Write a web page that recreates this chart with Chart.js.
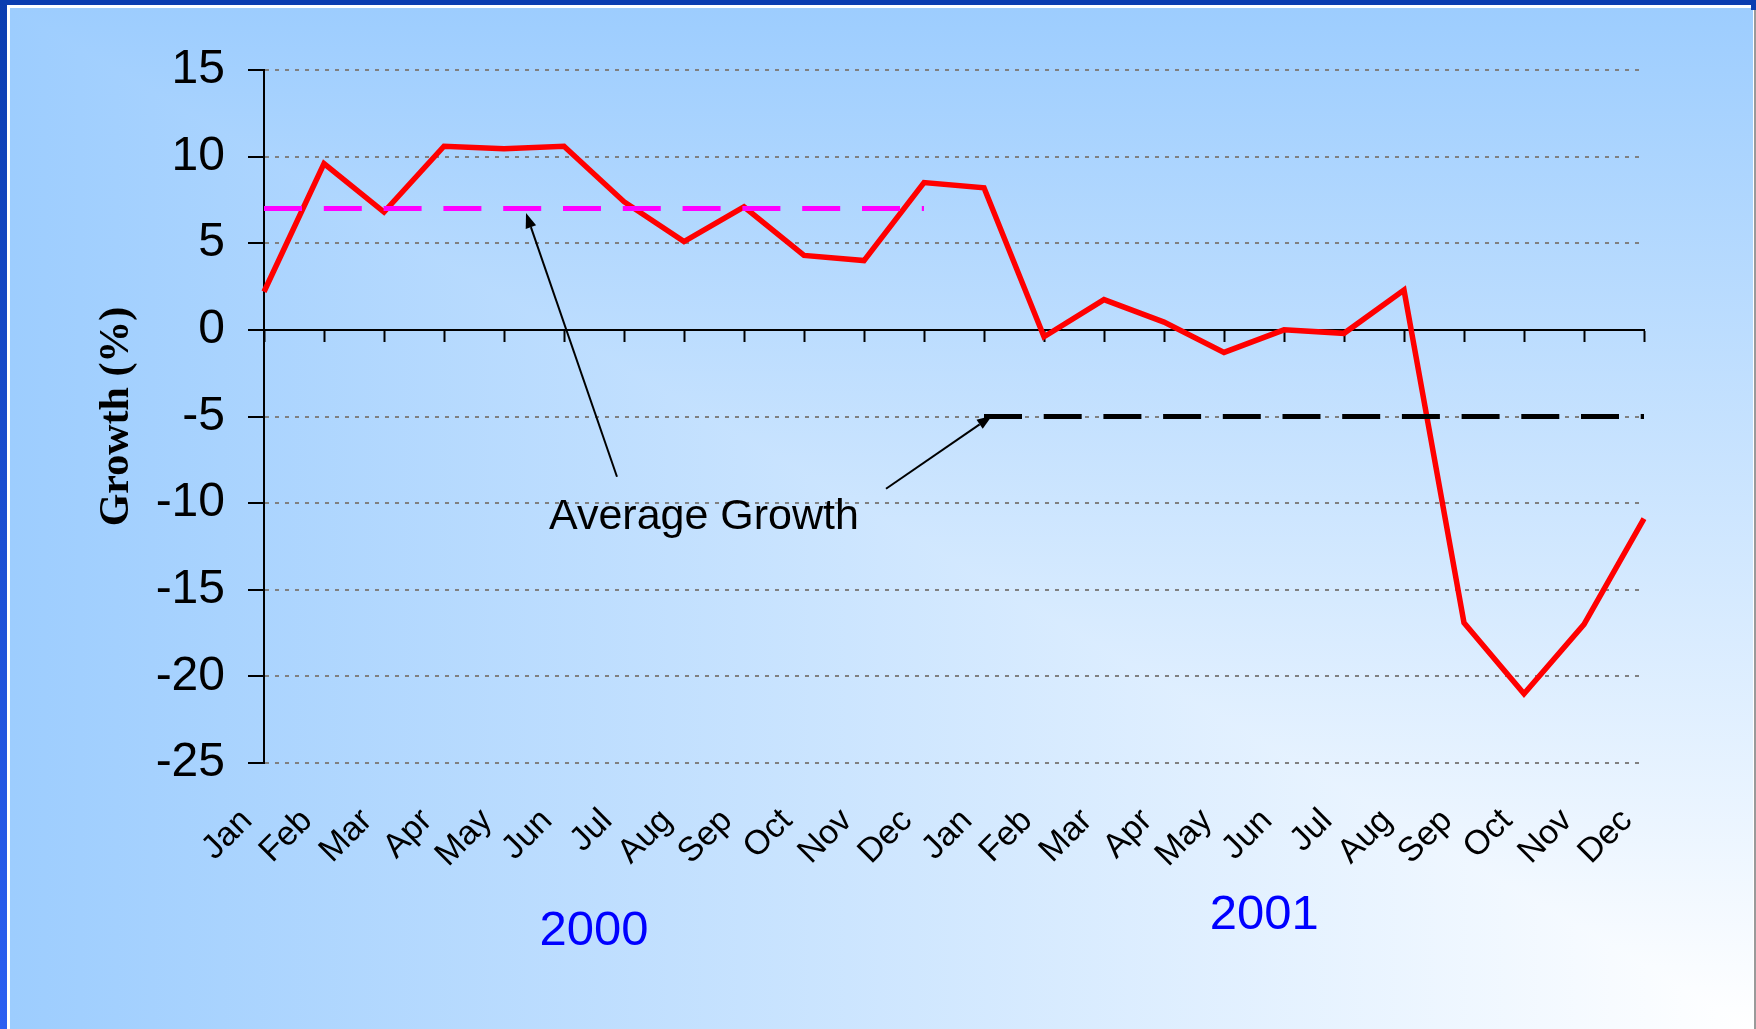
<!DOCTYPE html>
<html>
<head>
<meta charset="utf-8">
<script src="https://cdn.jsdelivr.net/npm/chart.js@4.4.1/dist/chart.umd.min.js"></script>
<style>
html,body{margin:0;padding:0;overflow:hidden;background:#fff;}
canvas{display:block;}
</style>
</head>
<body>
<canvas id="c" width="1756" height="1029"></canvas>
<script>
// ---- data ----
const months = ['Jan','Feb','Mar','Apr','May','Jun','Jul','Aug','Sep','Oct','Nov','Dec'];
const categories = months.concat(months);           // Jan 2000 .. Dec 2001
const years = ['2000', '2001'];
const growth = [2.2, 9.6, 6.8, 10.6, 10.45, 10.6, 7.4, 5.1, 7.1, 4.3, 4.0, 8.5,
                8.2, -0.4, 1.75, 0.45, -1.3, 0.0, -0.2, 2.3, -16.9, -21.0, -17.0, -10.9];
const averageGrowth = [7.0, -5.0];                   // 2000 average, 2001 average
const yTicks = [15, 10, 5, 0, -5, -10, -15, -20, -25];
const annotationText = 'Average Growth';
const yTitle = 'Growth (%)';

// ---- derived series ----
const avg2000 = categories.map((_, i) => i < 12 ? averageGrowth[0] : null);
const avg2001 = categories.map((_, i) => i >= 12 ? averageGrowth[1] : null);

const SANS = 'Arial, "Liberation Sans", sans-serif';
const SERIF = '"Times New Roman", "Liberation Serif", serif';

const backgroundPlugin = {
  id: 'slideBackground',
  beforeDraw(chart) {
    const ctx = chart.ctx;
    const W = chart.width, H = chart.height;
    ctx.save();
    ctx.fillStyle = '#ffffff';
    ctx.fillRect(0, 0, W, H);
    const L = 10, T = 8, R = W - 3, B = H;
    const BLUE = '#9dcdfe';
    const gv = ctx.createLinearGradient(0, T, 0, B);
    gv.addColorStop(0, BLUE); gv.addColorStop(1, '#ffffff');
    ctx.fillStyle = gv;
    ctx.fillRect(L, T, R - L, B - T);
    ctx.beginPath();
    ctx.moveTo(L, T); ctx.lineTo(R, B); ctx.lineTo(L, B); ctx.closePath();
    const gh = ctx.createLinearGradient(L, 0, R, 0);
    gh.addColorStop(0, BLUE); gh.addColorStop(1, '#ffffff');
    ctx.fillStyle = gh;
    ctx.fill();
    // frame
    ctx.fillStyle = '#0b3db0';
    ctx.fillRect(0, 0, W, 5);
    ctx.fillRect(W - 5, 0, 5, 10);
    const gl = ctx.createLinearGradient(0, 0, 0, H);
    gl.addColorStop(0, '#0b3db0'); gl.addColorStop(1, '#2b5ff2');
    ctx.fillStyle = gl;
    ctx.fillRect(0, 0, 7, H);
    ctx.fillStyle = '#ffffff';
    ctx.fillRect(7, 5, W - 12, 3);
    ctx.fillRect(7, 5, 3, H - 5);
    ctx.fillStyle = '#9a9a9a';
    ctx.fillRect(W - 2, 10, 2, H - 10);
    ctx.restore();
  }
};

const annotationPlugin = {
  id: 'notes',
  afterDatasetsDraw(chart, args, opts) {
    const ctx = chart.ctx;
    const xs = chart.scales.x, ys = chart.scales.y;
    const px = v => xs.getPixelForValue(v);
    const py = v => ys.getPixelForValue(v);
    ctx.save();
    ctx.strokeStyle = '#000'; ctx.fillStyle = '#000'; ctx.lineWidth = 2;
    opts.arrows.forEach(a => {
      const x1 = px(a.from[0]), y1 = py(a.from[1]);
      const x2 = px(a.to[0]), y2 = py(a.to[1]);
      const ang = Math.atan2(y2 - y1, x2 - x1);
      const hl = 15, hw = 5.5;
      const bx = x2 - hl * Math.cos(ang), by = y2 - hl * Math.sin(ang);
      ctx.beginPath(); ctx.moveTo(x1, y1); ctx.lineTo(bx, by); ctx.stroke();
      ctx.beginPath();
      ctx.moveTo(x2, y2);
      ctx.lineTo(bx + hw * Math.sin(ang), by - hw * Math.cos(ang));
      ctx.lineTo(bx - hw * Math.sin(ang), by + hw * Math.cos(ang));
      ctx.closePath(); ctx.fill();
    });
    ctx.font = '43px ' + SANS;
    ctx.textAlign = 'left'; ctx.textBaseline = 'alphabetic';
    ctx.fillText(annotationText, px(opts.textAt[0]), py(opts.textAt[1]));
    ctx.fillStyle = '#0000ff';
    ctx.font = '49px ' + SANS;
    ctx.textAlign = 'center';
    years.forEach((yr, i) => {
      ctx.fillText(yr, px(opts.yearAt[i][0]), py(opts.yearAt[i][1]));
    });
    ctx.restore();
  }
};

new Chart(document.getElementById('c'), {
  type: 'line',
  data: {
    labels: categories,
    datasets: [
      { label: 'Average 2000', data: avg2000, borderColor: '#ff00ff', borderWidth: 5,
        borderDash: [38, 21.8], pointRadius: 0, fill: false, tension: 0, borderCapStyle: 'butt' },
      { label: 'Average 2001', data: avg2001, borderColor: '#000000', borderWidth: 5,
        borderDash: [38, 21.7], pointRadius: 0, fill: false, tension: 0, borderCapStyle: 'butt' },
      { label: 'Growth', data: growth, borderColor: '#ff0000', borderWidth: 5.5,
        pointRadius: 0, fill: false, tension: 0, borderJoinStyle: 'miter' }
    ]
  },
  options: {
    responsive: false,
    animation: false,
    events: [],
    layout: { padding: { left: 0, top: 70, right: 112, bottom: 0 } },
    plugins: {
      legend: { display: false },
      tooltip: { enabled: false },
      notes: {
        arrows: [
          { from: [5.883, -8.48], to: [4.367, 6.75] },
          { from: [10.367, -9.17], to: [12.133, -4.96] }
        ],
        textAt: [4.75, -11.48],
        yearAt: [[5.5, -35.48], [16.67, -34.56]]
      }
    },
    scales: {
      x: {
        type: 'category',
        offset: false,
        grid: { display: false, drawTicks: false },
        border: { display: false },
        ticks: {
          autoSkip: false, minRotation: 45, maxRotation: 45,
          color: '#000', font: { family: SANS, size: 34 },
          padding: 38, labelOffset: -17
        },
        afterFit: s => { s.height = 266; }
      },
      x0: {
        type: 'category',
        position: { y: 0 },
        offset: false,
        grid: { drawOnChartArea: false, drawTicks: true, tickLength: 11,
                tickColor: '#000', tickWidth: 2, color: '#000' },
        border: { display: true, color: '#000', width: 2 },
        ticks: { display: false }
      },
      y: {
        min: -25, max: 15,
        afterBuildTicks: s => { s.ticks = yTicks.slice().reverse().map(v => ({ value: v })); },
        ticks: { color: '#000', font: { family: SANS, size: 48 }, padding: 23 },
        grid: { color: '#808080', lineWidth: 2, drawTicks: true, tickLength: 16,
                tickColor: '#000', tickWidth: 2, tickBorderDash: [] },
        border: { display: true, color: '#000', width: 2, dash: [4, 6] },
        title: { display: true, text: yTitle, color: '#000',
                 font: { family: SERIF, size: 42, weight: 'bold' },
                 padding: { top: 92, bottom: 4 } },
        afterFit: s => { s.width = 264; }
      }
    }
  },
  plugins: [backgroundPlugin, annotationPlugin]
});
</script>
</body>
</html>
